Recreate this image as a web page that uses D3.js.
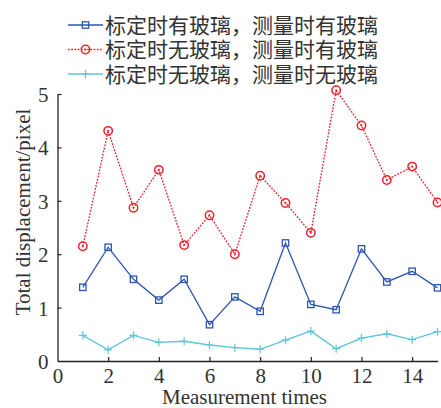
<!DOCTYPE html>
<html>
<head>
<meta charset="utf-8">
<script src="https://cdn.jsdelivr.net/npm/d3@7"></script>
<style>
  body { margin: 0; background: #fff; }
  svg text { fill: #333; }
</style>
</head>
<body>
<svg id="chart" width="441" height="408"></svg>
<script>
// measurement index 1..15
var times = [1,2,3,4,5,6,7,8,9,10,11,12,13,14,15];
// 标定时有玻璃，测量时有玻璃
var withWith = [1.38,2.13,1.53,1.14,1.53,0.68,1.20,0.93,2.21,1.06,0.96,2.10,1.48,1.68,1.37];
// 标定时无玻璃，测量时有玻璃
var withoutWith = [2.15,4.31,2.87,3.58,2.17,2.73,2.00,3.47,2.96,2.40,5.07,4.41,3.39,3.64,2.97];
// 标定时无玻璃，测量时无玻璃
var withoutWithout = [0.48,0.21,0.48,0.35,0.37,0.30,0.25,0.22,0.39,0.56,0.23,0.43,0.51,0.40,0.55];

var xTicks = [0,2,4,6,8,10,12,14];
var yTicks = [0,1,2,3,4,5];

var seriesNames = ["标定时有玻璃，测量时有玻璃", "标定时无玻璃，测量时有玻璃", "标定时无玻璃，测量时无玻璃"];

var svg = d3.select("#chart");
var margin = {left: 57.5, right: 3.5, top: 94, bottom: 47};
var w = 441, h = 408;

var x = d3.scaleLinear().domain([0, 15]).range([margin.left, w - margin.right]);
var y = d3.scaleLinear().domain([0, 5]).range([h - margin.bottom, margin.top]);

var serif = "'Liberation Serif', 'Times New Roman', serif";

// axes, ticks inward
var xAxis = d3.axisBottom(x).tickValues(xTicks).tickFormat(d3.format("d"))
    .tickSizeInner(-4).tickSizeOuter(0).tickPadding(7);
var yAxis = d3.axisLeft(y).tickValues(yTicks).tickFormat(d3.format("d"))
    .tickSizeInner(-4).tickSizeOuter(0).tickPadding(9);

var gx = svg.append("g").attr("transform", "translate(0," + y(0) + ")").call(xAxis);
var gy = svg.append("g").attr("transform", "translate(" + x(0) + ",0)").call(yAxis);
[gx, gy].forEach(function(g){
    g.select(".domain").attr("stroke", "#222").attr("stroke-width", 1.3);
    g.selectAll(".tick line").attr("stroke", "#222").attr("stroke-width", 1.2);
    g.selectAll(".tick text").attr("font-family", serif).attr("font-size", 21).attr("fill", "#333");
});
gx.selectAll(".tick").filter(function(d){ return d === 0; }).select("line").remove();
gy.selectAll(".tick").filter(function(d){ return d === 0; }).select("line").remove();
gy.selectAll(".tick text").attr("dy", "0.36em");

svg.append("text")
    .attr("x", (x(0) + x(15)) / 2 - 3).attr("y", 404)
    .attr("text-anchor", "middle")
    .attr("font-family", serif).attr("font-size", 21)
    .text("Measurement times");

svg.append("text")
    .attr("transform", "translate(30," + 212 + ") rotate(-90)")
    .attr("text-anchor", "middle")
    .attr("font-family", serif).attr("font-size", 21)
    .text("Total displacement/pixel");

var series = [
    {name: seriesNames[0], values: withWith, color: "#2d55b0", dash: null, marker: "square"},
    {name: seriesNames[1], values: withoutWith, color: "#f0202a", dash: "1.8,1.4", marker: "circle"},
    {name: seriesNames[2], values: withoutWithout, color: "#5ec6d6", dash: null, marker: "plus"}
];

var line = d3.line()
    .x(function(d){ return x(d[0]); })
    .y(function(d){ return y(d[1]); });

function drawMarker(g, type, color) {
    if (type === "square") {
        g.append("rect").attr("x", -3.2).attr("y", -3.2).attr("width", 6.4).attr("height", 6.4)
            .attr("fill", "none").attr("stroke", color).attr("stroke-width", 1.3);
    } else if (type === "circle") {
        g.append("circle").attr("r", 4.2).attr("fill", "none").attr("stroke", color).attr("stroke-width", 1.5);
        g.append("circle").attr("r", 1).attr("fill", color);
    } else {
        g.append("path").attr("d", "M-4,0H4M0,-4V4").attr("stroke", color).attr("stroke-width", 1.2);
    }
}

series.forEach(function(s){
    var pts = times.map(function(t, i){ return [t, s.values[i]]; });
    svg.append("path")
        .datum(pts)
        .attr("d", line)
        .attr("fill", "none")
        .attr("stroke", s.color)
        .attr("stroke-width", 1.3)
        .attr("stroke-dasharray", s.dash);
    svg.selectAll(null)
        .data(pts)
        .enter()
        .append("g")
        .attr("transform", function(d){ return "translate(" + x(d[0]) + "," + y(d[1]) + ")"; })
        .each(function(){ drawMarker(d3.select(this), s.marker, s.color); });
});

// legend
var legend = svg.append("g");
series.forEach(function(s, i){
    var cy = 25 + i * 24.5;
    legend.append("line")
        .attr("x1", 68).attr("x2", 103).attr("y1", cy).attr("y2", cy)
        .attr("stroke", s.color).attr("stroke-width", 1.3)
        .attr("stroke-dasharray", s.dash);
    var m = legend.append("g").attr("transform", "translate(85.5," + cy + ")");
    drawMarker(m, s.marker, s.color);
    legend.append("text")
        .attr("x", 105).attr("y", cy).attr("dy", "0.36em")
        .attr("font-family", "'Noto Sans CJK SC', sans-serif")
        .attr("font-size", 21)
        .text(s.name);
});
</script>
</body>
</html>
